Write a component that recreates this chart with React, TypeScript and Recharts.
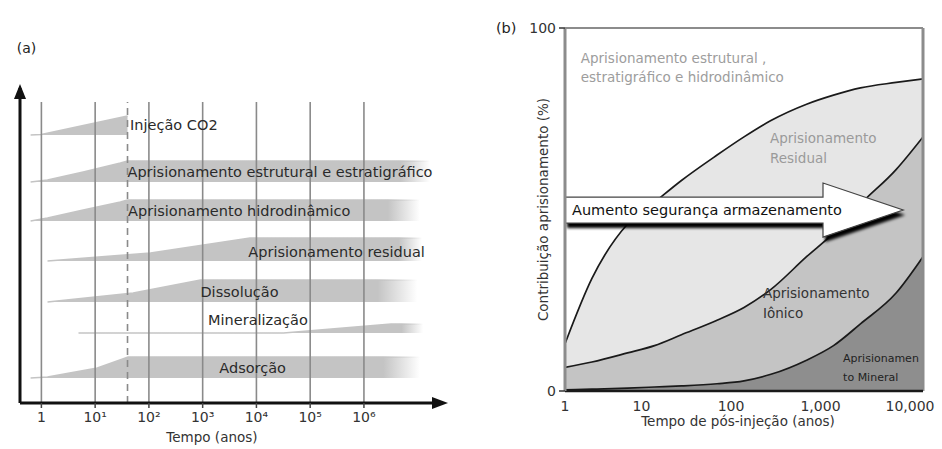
import React from 'react';
import { ComposedChart, Area, XAxis, YAxis, ReferenceLine, ReferenceDot, ReferenceArea } from 'recharts';

const FONT = "'DejaVu Sans', Verdana, sans-serif";

// ---------------- Panel (a) data ----------------
const aTicks = [1, 10, 100, 1000, 10000, 100000, 1000000];
const aTickLabels = ['1', '10¹', '10²', '10³', '10⁴', '10⁵', '10⁶'];
const aDashedYear = 40;
const aGridTop = 301;
const aYMax = 315;
const aXMin = 0.4;
const aXMax = 2.6e7;

const bandLabels = [
  'Injeção CO2',
  'Aprisionamento estrutural e estratigráfico',
  'Aprisionamento hidrodinâmico',
  'Aprisionamento residual',
  'Dissolução',
  'Mineralização',
  'Adsorção',
];
const bandBase = [268, 221, 182, 142, 101, 70, 25];
const bandYears = [
  [0.63, 1, 40],
  [0.63, 1.3, 6, 29.5, 40, 1.7e7],
  [0.63, 1.3, 6, 29.5, 40, 1.1e7],
  [1.3, 107, 7600, 1.2e7],
  [1.3, 51, 912, 9.8e6],
  [4.9, 3.2e4, 3.2e6, 1.26e7],
  [0.63, 1.3, 11, 41, 1.1e7],
];
const bandTops = [
  [268, 268.5, 287],
  [221, 223, 231, 240, 242, 242],
  [182, 185, 193, 201, 203, 203],
  [142, 150, 165, 165],
  [101, 110, 123, 123],
  [70, 70, 79, 79],
  [25, 26, 35, 46, 46],
];
const bandFadeFrom = [0, 4.7e6, 2.8e6, 4.4e6, 1.8e6, 5e6, 2.3e6];
const bandLabelYears = [44.7, 40, 41, 7080, 910, 1260, 2040];
const bandLabelHeights = [278, 231, 192, 151, 111, 83, 35];

// ---------------- Panel (b) data ----------------
const bYears = [1, 2, 5, 10, 20, 50, 100, 200, 500, 1000, 2000, 5000, 10000];
const residualTop = [13, 31, 46, 52, 58, 65, 70, 74.5, 79, 81.5, 83.5, 85, 86];
const ionicTop = [6.5, 8, 10.5, 12.5, 15.5, 19.5, 23, 28, 37, 43.5, 51.5, 61, 70];
const mineralTop = [0.3, 0.5, 0.8, 1.1, 1.4, 2.0, 2.8, 4.6, 8.5, 12.5, 18.5, 27, 37];
const bTicks = [1, 10, 100, 1000, 10000];
const arrowText = 'Aumento segurança armazenamento';
const arrowFromYear = 1;
const arrowToYear = 6000;
const arrowLow = 42.4;
const arrowHigh = 57.3;

const regionLabelLines = [
  ['Aprisionamento estrutural ,', 'estratigráfico e hidrodinâmico'],
  ['Aprisionamento', 'Residual'],
  ['Aprisionamento', 'Iônico'],
  ['Aprisionamen', 'to Mineral'],
];
const regionLabelYears = [1.5, 195, 163, 1280];
const regionLabelValues = [91.7, 69.7, 27, 9.1];
const regionLabelColors = ['#9d9d9d', '#9a9a9a', '#333', '#222'];
const regionLabelSizes = [13.5, 13.5, 13.5, 11];
const regionLabelGaps = [19, 20, 20, 19];

const bRows = bYears.map((t, i) => ({ t, residual: residualTop[i], ionic: ionicTop[i], mineral: mineralTop[i] }));
const aBandRows = bandYears.map((ys, i) => ys.map((t, j) => ({ t, v: [bandBase[i], bandTops[i][j]] })));

const BAND = '#c4c4c4';

const textShape = (lines: string[], size: number, color: string, gap: number, anchor: string = 'start') => (p: any) => (
  <text x={p.cx} y={p.cy} fontSize={size} fill={color} fontFamily={FONT} textAnchor={anchor} dominantBaseline="central">
    {lines.map((l, i) => (
      <tspan key={i} x={p.cx} dy={i === 0 ? 0 : gap}>{l}</tspan>
    ))}
  </text>
);

const ArrowShape = (p: any) => {
  const { x, y, width, height } = p;
  const bt = y + height * 0.26;
  const bb = y + height * 0.74;
  const hx = x + width * 0.763;
  const tx = x + width;
  const my = y + height / 2;
  const pts = `${x},${bt} ${hx},${bt} ${hx},${y} ${tx},${my} ${hx},${y + height} ${hx},${bb} ${x},${bb}`;
  return (
    <g>
      <defs>
        <filter id="arrowBlur" x="-10%" y="-40%" width="120%" height="180%">
          <feGaussianBlur stdDeviation="1.5" />
        </filter>
      </defs>
      <polygon points={pts} fill="#000" transform="translate(2,5)" filter="url(#arrowBlur)" />
      <polygon points={pts} fill="#fff" stroke="#444" strokeWidth={1.2} />
      <text x={x + 7} y={my} fontSize={14.5} fill="#111" fontFamily={FONT} dominantBaseline="central">{arrowText}</text>
    </g>
  );
};

const upArrow = (p: any) => (
  <polygon points={`${p.cx},${p.cy - 4} ${p.cx - 6},${p.cy + 11} ${p.cx + 6},${p.cy + 11}`} fill="#111" />
);
const rightArrow = (p: any) => (
  <polygon points={`${p.cx + 8},${p.cy} ${p.cx - 8},${p.cy - 6} ${p.cx - 8},${p.cy + 6}`} fill="#111" />
);

const PanelA = () => (
  <ComposedChart width={470} height={449} margin={{ top: 88, right: 30, bottom: 16, left: 20 }}>
    <defs>
      {bandYears.map((ys, i) => {
        const l0 = Math.log10(ys[0]);
        const l1 = Math.log10(ys[ys.length - 1]);
        const off = bandFadeFrom[i] > 0 ? (Math.log10(bandFadeFrom[i]) - l0) / (l1 - l0) : 1;
        return (
          <linearGradient key={i} id={`aFade${i}`} x1="0" y1="0" x2="1" y2="0">
            <stop offset="0" stopColor={BAND} stopOpacity={1} />
            <stop offset={off} stopColor={BAND} stopOpacity={1} />
            <stop offset="1" stopColor={BAND} stopOpacity={bandFadeFrom[i] > 0 ? 0 : 1} />
          </linearGradient>
        );
      })}
    </defs>
    <XAxis
      type="number"
      dataKey="t"
      scale="log"
      domain={[aXMin, aXMax]}
      allowDataOverflow
      ticks={aTicks}
      interval={0}
      tickFormatter={(v: number) => aTickLabels[aTicks.indexOf(v)] ?? ''}
      height={30}
      axisLine={{ stroke: '#111', strokeWidth: 3 }}
      tickLine={{ stroke: '#444', strokeWidth: 1.5 }}
      tickSize={5}
      tickMargin={4}
      tick={{ fontSize: 14, fill: '#333', fontFamily: FONT }}
      label={{
        content: (p: any) => (
          <text x={p.viewBox.x + p.viewBox.width * 0.457} y={p.viewBox.y + 34} textAnchor="middle" dominantBaseline="central" fontSize={13.5} fill="#333" fontFamily={FONT}>
            Tempo (anos)
          </text>
        ),
      }}
    />
    <YAxis type="number" domain={[0, aYMax]} allowDataOverflow width={0} tick={false} tickLine={false} axisLine={false} />
    {aTicks.map((t) => (
      <ReferenceLine key={t} segment={[{ x: t, y: 0 }, { x: t, y: aGridTop }]} stroke="#8a8a8a" strokeWidth={1.6} ifOverflow="visible" />
    ))}
    <ReferenceLine segment={[{ x: aDashedYear, y: 0 }, { x: aDashedYear, y: aGridTop }]} stroke="#8a8a8a" strokeWidth={1.6} strokeDasharray="7 5" ifOverflow="visible" />
    {aBandRows.map((rows, i) => (
      <Area
        key={i}
        data={rows}
        dataKey="v"
        type="linear"
        fill={`url(#aFade${i})`}
        fillOpacity={1}
        stroke={`url(#aFade${i})`}
        strokeWidth={1.6}
        isAnimationActive={false}
        dot={false}
        activeDot={false}
      />
    ))}
    {bandLabels.map((lbl, i) => (
      <ReferenceDot key={lbl} x={bandLabelYears[i]} y={bandLabelHeights[i]} r={1} ifOverflow="visible" shape={textShape([lbl], 14.5, '#2a2a2a', 0)} />
    ))}
    <ReferenceLine segment={[{ x: aXMin, y: 0 }, { x: aXMin, y: aYMax }]} stroke="#111" strokeWidth={3} ifOverflow="visible" />
    <ReferenceDot x={aXMin} y={aYMax} r={1} ifOverflow="visible" shape={upArrow} />
    <ReferenceDot x={aXMax} y={0} r={1} ifOverflow="visible" shape={rightArrow} />
    <ReferenceDot x={0.53} y={355} r={1} ifOverflow="visible" shape={textShape(['(a)'], 14, '#222', 0, 'middle')} />
  </ComposedChart>
);

const BTick = (p: any) => (
  <text x={p.index === 0 ? p.x : p.x - 13} y={p.y} dy="0.71em" textAnchor="middle" fontSize={14} fill="#333" fontFamily={FONT}>
    {Number(p.payload.value).toLocaleString('en-US')}
  </text>
);

const PanelB = () => (
  <ComposedChart width={452} height={449} data={bRows} margin={{ top: 28, right: 19, bottom: 28, left: 0 }}>
    <XAxis
      type="number"
      dataKey="t"
      scale="log"
      domain={[1, 10000]}
      allowDataOverflow
      ticks={bTicks}
      interval={0}
      height={30}
      axisLine={{ stroke: '#1a1a1a', strokeWidth: 2.5 }}
      tickLine={false}
      tickMargin={4}
      tick={<BTick />}
      label={{
        content: (p: any) => (
          <text x={p.viewBox.x + p.viewBox.width / 2 - 6} y={p.viewBox.y + 30} textAnchor="middle" dominantBaseline="central" fontSize={13.5} fill="#333" fontFamily={FONT}>
            Tempo de pós-injeção (anos)
          </text>
        ),
      }}
    />
    <YAxis
      type="number"
      domain={[0, 100]}
      allowDataOverflow
      ticks={[0, 100]}
      width={75}
      axisLine={{ stroke: '#8c8c8c', strokeWidth: 3 }}
      tickLine={{ stroke: '#333', strokeWidth: 1.5 }}
      tickSize={6}
      tickMargin={3}
      tick={{ fontSize: 14, fill: '#333', fontFamily: FONT }}
      label={{
        content: (p: any) => {
          const cx = p.viewBox.x + 53;
          const cy = p.viewBox.y + p.viewBox.height / 2;
          return (
            <text x={cx} y={cy} transform={`rotate(-90, ${cx}, ${cy})`} textAnchor="middle" dominantBaseline="central" fontSize={13.5} fill="#333" fontFamily={FONT}>
              Contribuição aprisionamento (%)
            </text>
          );
        },
      }}
    />
    <Area dataKey="residual" type="monotone" fill="#e6e6e6" fillOpacity={1} stroke="#1a1a1a" strokeWidth={1.7} isAnimationActive={false} dot={false} activeDot={false} />
    <Area dataKey="ionic" type="monotone" fill="#c4c4c4" fillOpacity={1} stroke="#1a1a1a" strokeWidth={1.7} isAnimationActive={false} dot={false} activeDot={false} />
    <Area dataKey="mineral" type="monotone" fill="#8e8e8e" fillOpacity={1} stroke="#1a1a1a" strokeWidth={1.7} isAnimationActive={false} dot={false} activeDot={false} />
    <ReferenceLine y={100} stroke="#666" strokeWidth={1.5} />
    <ReferenceLine x={10000} stroke="#8c8c8c" strokeWidth={3} />
    <ReferenceArea x1={arrowFromYear} x2={arrowToYear} y1={arrowLow} y2={arrowHigh} shape={ArrowShape} ifOverflow="visible" />
    {regionLabelLines.map((lines, i) => (
      <ReferenceDot
        key={i}
        x={regionLabelYears[i]}
        y={regionLabelValues[i]}
        r={1}
        ifOverflow="visible"
        shape={textShape(lines, regionLabelSizes[i], regionLabelColors[i], regionLabelGaps[i])}
      />
    ))}
    <ReferenceDot x={0.22} y={100} r={1} ifOverflow="visible" shape={textShape(['(b)'], 14.5, '#222', 0, 'middle')} />
  </ComposedChart>
);

export default function App() {
  return (
    <div style={{ position: 'absolute', left: 0, top: 0, width: 942, height: 449, background: '#fff', overflow: 'hidden', fontFamily: FONT }}>
      <div style={{ position: 'absolute', left: 0, top: 0 }}>
        <PanelA />
      </div>
      <div style={{ position: 'absolute', left: 490, top: 0 }}>
        <PanelB />
      </div>
    </div>
  );
}
